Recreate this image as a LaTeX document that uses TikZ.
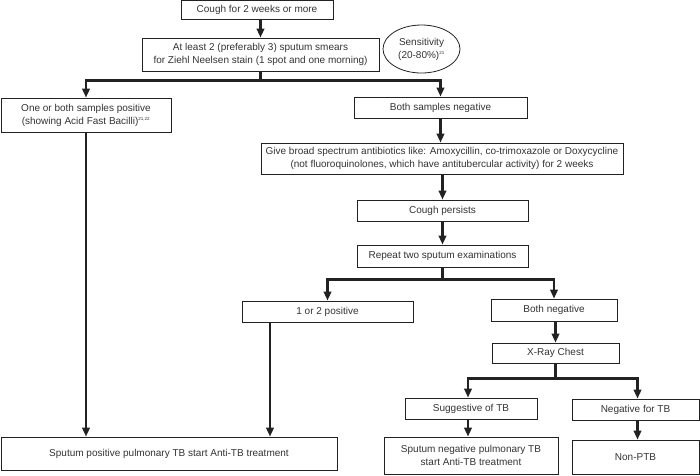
\documentclass[tikz,border=0pt]{standalone}
\usepackage{fontspec}
\setmainfont{Liberation Sans}
\usetikzlibrary{arrows.meta,shapes.geometric}
\definecolor{ink}{HTML}{222222}
\definecolor{txt}{HTML}{333333}
\tikzset{
  box/.style={draw=ink, line width=0.8pt, rectangle, inner sep=0pt, align=center, text=txt,
    font=\fontsize{10}{13}\selectfont},
  arr/.style={draw=ink, line width=2.9pt, -{Triangle[length=9pt,width=7.5pt]}},
  bar/.style={draw=ink, line width=2.9pt}
}
\newcommand{\sups}[1]{\textsuperscript{\fontsize{4.5}{5}\selectfont #1}}
\begin{document}
\begin{tikzpicture}[x=1pt,y=-1pt]
\useasboundingbox (0,0) rectangle (700,475);
\node[box, minimum width=152, minimum height=19] (cough) at (257,9.5) {Cough for 2 weeks or more};
\node[box, minimum width=237, minimum height=33] (smear) at (260.5,54.5) {At least 2 (preferably 3) sputum smears\\for Ziehl Neelsen stain (1 spot and one morning)};
\node[box, ellipse, minimum width=77, minimum height=48] (sens) at (421.5,49) {Sensitivity\\(20-80\%)\sups{21}};
\node[box, minimum width=170, minimum height=34] (pos1) at (86,115) {One or both samples positive\\(showing Acid Fast Bacilli)\sups{21,22}};
\node[box, minimum width=173, minimum height=21] (neg1) at (440.5,107.5) {Both samples negative};
\node[box, minimum width=362, minimum height=31] (abx) at (442,158.5) {Give broad spectrum antibiotics like: Amoxycillin, co-trimoxazole or Doxycycline\\(not fluoroquinolones, which have antitubercular activity) for 2 weeks};
\node[box, minimum width=171, minimum height=21] (pers) at (442.5,210.5) {Cough persists};
\node[box, minimum width=171, minimum height=22] (rep) at (442.5,256) {Repeat two sputum examinations};
\node[box, minimum width=171, minimum height=21] (pos2) at (327.5,311.5) {1 or 2 positive};
\node[box, minimum width=126, minimum height=22] (neg2) at (554,310) {Both negative};
\node[box, minimum width=127, minimum height=20] (xray) at (555.5,353) {X-Ray Chest};
\node[box, minimum width=132, minimum height=21] (sugg) at (471,408.5) {Suggestive of TB};
\node[box, minimum width=127, minimum height=21] (negtb) at (635.5,409.5) {Negative for TB};
\node[box, minimum width=174, minimum height=37] (snp) at (471,455.5) {Sputum negative pulmonary TB\\start Anti-TB treatment};
\node[box, minimum width=127, minimum height=34] (nonptb) at (635.5,457) {Non-PTB};
\node[box, minimum width=336, minimum height=33] (spp) at (169,453.5) {Sputum positive pulmonary TB start Anti-TB treatment};
% connectors
\draw[arr] (cough.south -| smear.north) -- (smear.north);
\draw[bar] (smear.south) -- ++(0,9) coordinate (b1);
\draw[arr] (b1) -| (pos1.north);
\draw[arr] (b1) -| (neg1.north);
\draw[arr] (neg1.south) -- (neg1.south |- abx.north);
\draw[arr] (abx.south -| pers.north) -- (pers.north);
\draw[arr] (pers.south) -- (rep.north);
\draw[bar] (rep.south) -- ++(0,12) coordinate (b2);
\draw[arr] (b2) -| (pos2.north);
\draw[arr] (b2) -| (neg2.north);
\draw[arr] (neg2.south -| xray.north) -- (xray.north);
\draw[bar] (xray.south) -- ++(0,15) coordinate (b3);
\draw[arr] (b3) -| ([xshift=-3pt]sugg.north);
\draw[arr] (b3) -| ([xshift=2pt]negtb.north);
\draw[arr] ([xshift=-3pt]sugg.south) -- ([xshift=-3pt]sugg.south |- snp.north);
\draw[arr] ([xshift=2pt]negtb.south) -- ([xshift=2pt]negtb.south |- nonptb.north);
\draw[arr] (pos1.south) -- (pos1.south |- spp.north);
\draw[arr] ([xshift=-57.5pt]pos2.south) -- ([xshift=-57.5pt]pos2.south |- spp.north);
\end{tikzpicture}
\end{document}
